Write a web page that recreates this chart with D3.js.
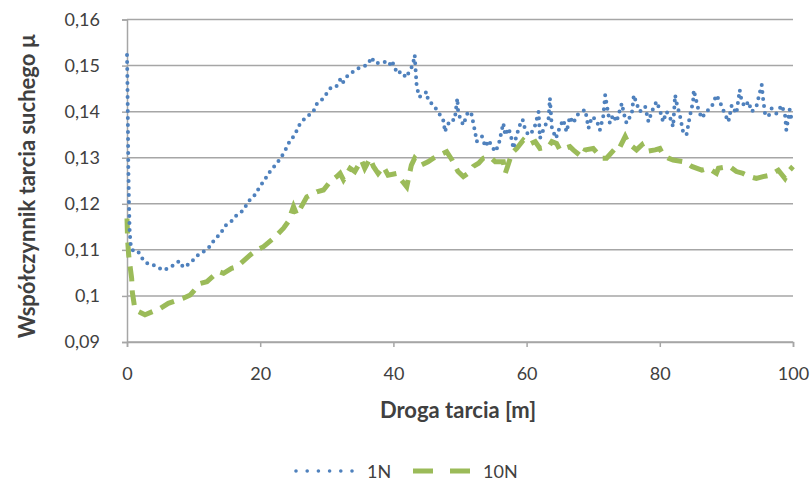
<!DOCTYPE html>
<html>
<head>
<meta charset="utf-8">
<script src="https://cdn.jsdelivr.net/npm/d3@7"></script>
<style>
  body { margin: 0; background: #fff; }
  text { font-family: Lato, "Open Sans", sans-serif; fill: #404040; }
</style>
</head>
<body>
<div id="chart"></div>
<script>
// Data: [droga tarcia (m), wspolczynnik tarcia]
let series1N = [
  [0,0.1523],[0.05,0.148],[0.1,0.142],[0.15,0.135],[0.2,0.128],[0.3,0.120],[0.4,0.114],[0.6,0.1104],
  [0.95,0.1098],[1.6,0.1098],[2.45,0.1078],[3.2,0.1069],[4.2,0.1066],[5.4,0.1056],[6.35,0.1061],[7.2,0.1069],
  [7.85,0.1076],[8.45,0.1062],[9.5,0.1071],[10.5,0.1087],[11.7,0.1098],[12.5,0.1108],[13.2,0.1124],[14,0.1134],
  [14.7,0.1152],[15.6,0.1161],[16.5,0.1176],[17.5,0.1186],[18.2,0.1205],[19,0.1215],[19.9,0.1236],[20.8,0.1255],
  [21.6,0.1273],[22.4,0.1286],[23.2,0.1302],[23.9,0.1320],[24.5,0.1338],[25.2,0.1349],[25.7,0.1367],[26.2,0.1378],
  [27,0.1389],[28,0.1400],[28.3,0.1414],[29.2,0.1425],[29.9,0.1438],[30.7,0.1454],[31.5,0.1456],[32.1,0.1472],
  [32.4,0.1463],[33.2,0.1480],[34,0.1487],[34.7,0.1494],[35.5,0.1498],[36.2,0.1503],[36.7,0.1518],[37.2,0.1505],
  [38,0.1506],[38.7,0.1508],[39.4,0.1501],[39.7,0.1511],[40.2,0.1498],[40.5,0.1483],[41.2,0.1487],[41.9,0.1474],
  [42.5,0.1490],[42.9,0.1501],[43.2,0.1523],[43.3,0.1498],[43.5,0.1454],[43.9,0.1432],[45,0.1443],[45.2,0.1425],
  [46,0.1414],[46.5,0.1404],[47,0.1393],[47.6,0.1378],[47.7,0.1356],[48.5,0.1382],[49.2,0.1382],[49.6,0.1429],
  [49.7,0.1404],[50,0.1386],[50.5,0.1371],[51.2,0.1400],[51.7,0.1396],[52,0.1375],[52.3,0.1353],[52.5,0.1335],
  [53.3,0.1346],[53.8,0.1324],[54.3,0.1338],[54.8,0.1324],[55.3,0.1313],[55.8,0.1328],[56.5,0.1375],[56.8,0.1349],
  [57.3,0.1364],[57.8,0.1338],[58,0.1320],[58.5,0.1349],[59,0.1371],[59.4,0.1383],[59.8,0.1360],[60.3,0.1349],
  [60.8,0.1356],[61.3,0.1371],[61.8,0.1400],[62,0.1342],[62.5,0.1360],[63.3,0.1386],[63.5,0.1429],[63.8,0.1364],
  [64.4,0.1342],[65,0.1367],[65.5,0.1382],[66,0.1356],[66.5,0.1389],[67,0.1375],[67.6,0.1393],[68.3,0.1400],
  [68.8,0.1404],[69.3,0.1364],[69.8,0.1389],[70.5,0.1382],[71,0.1360],[71.5,0.1389],[71.8,0.1436],[72,0.1418],
  [72.5,0.1375],[73,0.1393],[73.5,0.1378],[74.3,0.1418],[74.6,0.1396],[75,0.1375],[75.8,0.1396],[76.1,0.1436],
  [76.5,0.1418],[77,0.1400],[77.8,0.1411],[78.3,0.1378],[78.8,0.1400],[79.5,0.1422],[80,0.1404],[80.5,0.1378],
  [81,0.1400],[81.5,0.1389],[82,0.1367],[82.3,0.1436],[82.6,0.1414],[83,0.1393],[83.5,0.1356],[84,0.1349],
  [84.5,0.1389],[85,0.1422],[85.1,0.1447],[85.8,0.1404],[86.3,0.1386],[87,0.1400],[87.8,0.1411],[88.5,0.1436],
  [89,0.1422],[89.5,0.1404],[90.3,0.1378],[90.8,0.1414],[91.5,0.1396],[92,0.1447],[92.3,0.1422],[92.8,0.1411],
  [93.3,0.1422],[93.8,0.1400],[94.5,0.1411],[95.3,0.1458],[95.5,0.1429],[95.8,0.1396],[96.3,0.1389],[96.8,0.1407],
  [97.5,0.1396],[98.3,0.1414],[98.8,0.1393],[99,0.1360],[99.5,0.1404],[99.8,0.1382]
]

let series10N = [
  [0,0.1168],[0.1,0.112],[0.25,0.1089],[0.5,0.1060],[0.7,0.1038],[0.8,0.1008],[1.2,0.0970],[2.7,0.0959],
  [5,0.0973],[6.2,0.0984],[8.45,0.0995],[9.5,0.1002],[11,0.1027],[12,0.1031],[13.7,0.1053],[14.5,0.1049],
  [15.7,0.1060],[16.5,0.1063],[18.5,0.1089],[19.5,0.1100],[20.5,0.1107],[22,0.1125],[23.5,0.1147],[24.2,0.1161],
  [25,0.1194],[25.5,0.1176],[27,0.1215],[28.5,0.1226],[29.5,0.1230],[30.5,0.1248],[31.5,0.1259],[32,0.1266],
  [32.5,0.1252],[33.5,0.1277],[34.2,0.1270],[35.2,0.1295],[35.7,0.1277],[36.5,0.1299],[37,0.1281],[37.7,0.1266],
  [38.5,0.1281],[39.2,0.1262],[40.5,0.1266],[41,0.1255],[42,0.1237],[42.7,0.1284],[43.2,0.1299],[44.2,0.1284],
  [45.2,0.1291],[46,0.1299],[47,0.1306],[48,0.1313],[48.8,0.1295],[49.7,0.1270],[50.5,0.1259],[51.2,0.1266],
  [52,0.1281],[52.8,0.1288],[53.5,0.1299],[54.5,0.1302],[55.3,0.1291],[56.5,0.1291],[56.8,0.1266],[57.8,0.1310],
  [58.5,0.1320],[59.5,0.1338],[60.3,0.1328],[61.3,0.1335],[62,0.1320],[63.3,0.1324],[63.8,0.1335],[64.5,0.1331],
  [65,0.1317],[66.5,0.1324],[67,0.1317],[68.3,0.1302],[68.8,0.1317],[70,0.1320],[71.3,0.1299],[72,0.1299],
  [73.3,0.1320],[73.8,0.1317],[74.8,0.1346],[75.3,0.1331],[76.5,0.1317],[77.3,0.1328],[77.8,0.1313],[79.3,0.1317],
  [80,0.1320],[80.5,0.1306],[81.3,0.1299],[82,0.1295],[83.8,0.1291],[84.8,0.1281],[86.3,0.1273],[87.3,0.1277],
  [88.5,0.1266],[88.8,0.1277],[90.5,0.1281],[91.5,0.1270],[92.5,0.1266],[93.5,0.1259],[94.5,0.1255],[95.5,0.1259],
  [96.5,0.1262],[97,0.1266],[97.8,0.1273],[98.8,0.1255],[99.5,0.1273],[100,0.1281]
]

let xTicks = [0, 20, 40, 60, 80, 100]
let yTicks = [0.09, 0.10, 0.11, 0.12, 0.13, 0.14, 0.15, 0.16]
let yTickLabels = ["0,09", "0,1", "0,11", "0,12", "0,13", "0,14", "0,15", "0,16"]
let seriesNames = ["1N", "10N"]

let width = 812, height = 484
let blue = "#4f81bd", green = "#9bbb59", gridCol = "#a6a6a6"

let svg = d3.select("#chart").append("svg")
    .attr("width", width)
    .attr("height", height)

let x = d3.scaleLinear().domain([0, 100]).range([127, 793])
let y = d3.scaleLinear().domain([0.09, 0.16]).range([342, 19.5])

// Gridlines
svg.append("g")
    .selectAll("line")
    .data(yTicks)
    .enter()
    .append("line")
    .attr("x1", x(0))
    .attr("x2", x(100))
    .attr("y1", d => y(d))
    .attr("y2", d => y(d))
    .attr("stroke", gridCol)
    .attr("stroke-width", 1.5)

// Axes
let xAxis = d3.axisBottom(x).tickValues(xTicks).tickSize(5).tickPadding(20)
let gx = svg.append("g")
    .attr("transform", "translate(0," + y(0.09) + ")")
    .call(xAxis)
gx.select(".domain").attr("stroke", gridCol).attr("stroke-width", 1.5)
gx.selectAll(".tick line").attr("stroke", gridCol).attr("stroke-width", 1.5)
gx.selectAll("text").style("font-size", "18px").attr("fill", "#404040")

let yAxis = d3.axisLeft(y).tickValues(yTicks).tickSize(5).tickPadding(22)
    .tickFormat((d, i) => yTickLabels[i])
let gy = svg.append("g")
    .attr("transform", "translate(" + x(0) + ",0)")
    .call(yAxis)
gy.select(".domain").attr("stroke", gridCol).attr("stroke-width", 1.5)
gy.selectAll(".tick line").attr("stroke", gridCol).attr("stroke-width", 1.5)
gy.selectAll("text").style("font-size", "18px").attr("fill", "#404040")

// Lines
let line = d3.line()
    .x(d => x(d[0]))
    .y(d => y(d[1]))

svg.append("path")
    .datum(series10N)
    .attr("d", line)
    .attr("fill", "none")
    .attr("stroke", green)
    .attr("stroke-width", 5)
    .attr("stroke-dasharray", "15 9")

svg.append("path")
    .datum(series1N)
    .attr("d", line)
    .attr("fill", "none")
    .attr("stroke", blue)
    .attr("stroke-width", 4)
    .attr("stroke-linecap", "round")
    .attr("stroke-dasharray", "0 7")

// Axis titles
svg.append("text")
    .text("Droga tarcia [m]")
    .attr("x", 458)
    .attr("y", 418)
    .attr("text-anchor", "middle")
    .style("font-size", "22px")
    .style("font-weight", "bold")

svg.append("text")
    .text("Współczynnik tarcia suchego µ")
    .attr("transform", "translate(35,186) rotate(-90)")
    .attr("text-anchor", "middle")
    .style("font-size", "22px")
    .style("font-weight", "bold")

// Legend
let legend = svg.append("g").attr("id", "legend")
let legendItems = [
  {name: seriesNames[0], x1: 296, x2: 352, col: blue, w: 3.6, dash: "0 11.2", cap: "round", tx: 367},
  {name: seriesNames[1], x1: 413, x2: 470, col: green, w: 5, dash: "20 17", cap: "butt", tx: 483}
]
legendItems.forEach(d => {
  legend.append("line")
      .attr("x1", d.x1).attr("x2", d.x2)
      .attr("y1", 471).attr("y2", 471)
      .attr("stroke", d.col)
      .attr("stroke-width", d.w)
      .attr("stroke-linecap", d.cap)
      .attr("stroke-dasharray", d.dash)
  legend.append("text")
      .text(d.name)
      .attr("x", d.tx)
      .attr("y", 478)
      .style("font-size", "18px")
})
</script>
</body>
</html>
